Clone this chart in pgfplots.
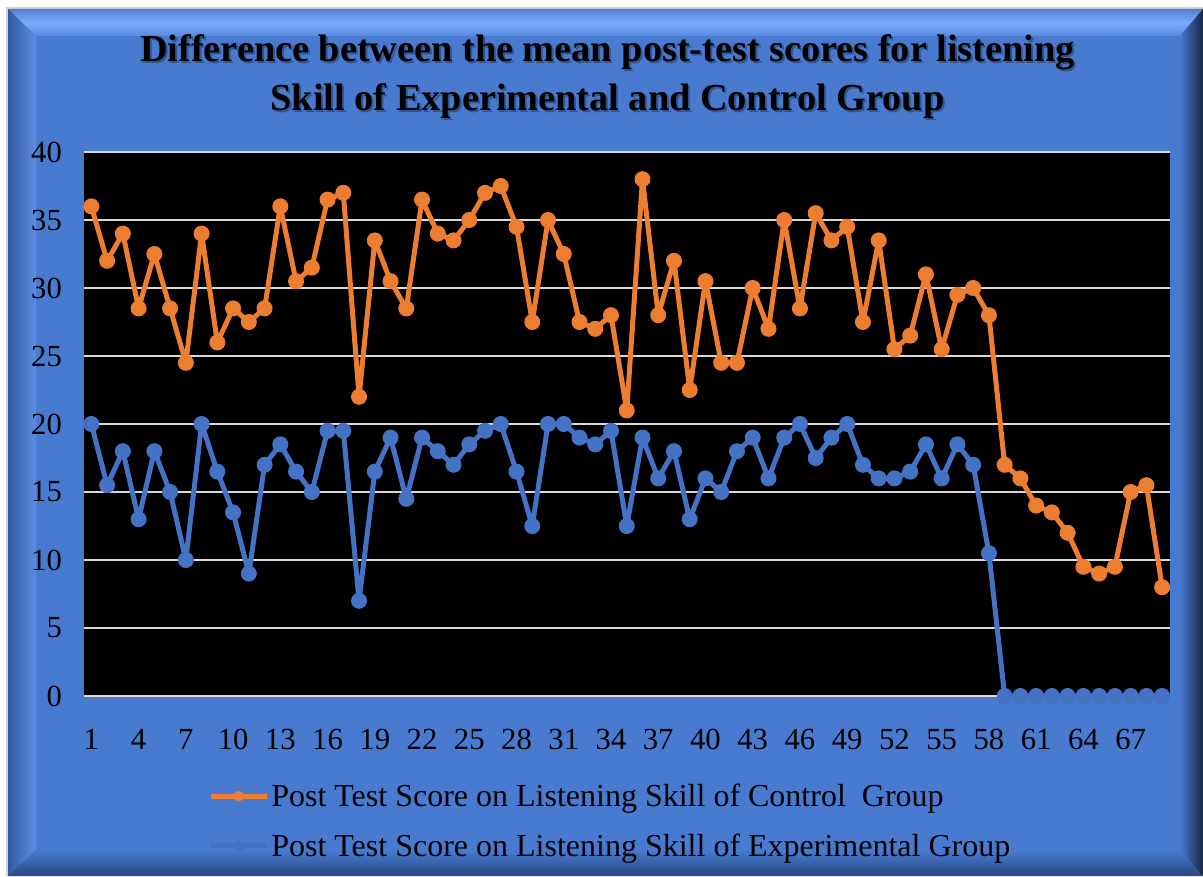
\documentclass[border=0pt]{standalone}
\usepackage{pgfplots}
\pgfplotsset{compat=1.18}
\usepackage{pgfplotstable}
\usepackage{fontspec}
\setmainfont{Liberation Serif}
\definecolor{bluemain}{RGB}{72,123,208}
\definecolor{ctrlorange}{RGB}{237,125,49}
\definecolor{expblue}{RGB}{68,114,196}
\definecolor{gridgray}{RGB}{217,217,217}

\pgfplotstableread{
x ctrl exp
1 36 20
2 32 15.5
3 34 18
4 28.5 13
5 32.5 18
6 28.5 15
7 24.5 10
8 34 20
9 26 16.5
10 28.5 13.5
11 27.5 9
12 28.5 17
13 36 18.5
14 30.5 16.5
15 31.5 15
16 36.5 19.5
17 37 19.5
18 22 7
19 33.5 16.5
20 30.5 19
21 28.5 14.5
22 36.5 19
23 34 18
24 33.5 17
25 35 18.5
26 37 19.5
27 37.5 20
28 34.5 16.5
29 27.5 12.5
30 35 20
31 32.5 20
32 27.5 19
33 27 18.5
34 28 19.5
35 21 12.5
36 38 19
37 28 16
38 32 18
39 22.5 13
40 30.5 16
41 24.5 15
42 24.5 18
43 30 19
44 27 16
45 35 19
46 28.5 20
47 35.5 17.5
48 33.5 19
49 34.5 20
50 27.5 17
51 33.5 16
52 25.5 16
53 26.5 16.5
54 31 18.5
55 25.5 16
56 29.5 18.5
57 30 17
58 28 10.5
59 17 0
60 16 0
61 14 0
62 13.5 0
63 12 0
64 9.5 0
65 9 0
66 9.5 0
67 15 0
68 15.5 0
69 8 0
}\datatable

\begin{document}
\begin{tikzpicture}
\begin{scope}[x=0.75pt,y=0.75pt]
\fill[white] (0,0) rectangle (1203,876);
\fill[gray!35] (6,0) rectangle (1203,869);
\fill[bluemain] (8,0) rectangle (1203,867);
\shade[top color={rgb,255:red,76;green,128;blue,214}, bottom color={rgb,255:red,86;green,138;blue,224}, middle color={rgb,255:red,124;green,172;blue,250}]
  (8,867) -- (1203,867) -- (1180,840) -- (36,840) -- cycle;
\shade[left color={rgb,255:red,50;green,88;blue,164}, right color={rgb,255:red,92;green,142;blue,228}]
  (8,867) -- (36,840) -- (36,26) -- (8,0) -- cycle;
\shade[top color=bluemain, bottom color={rgb,255:red,40;green,70;blue,130}]
  (36,26) -- (1180,26) -- (1203,0) -- (8,0) -- cycle;
\shade[left color=bluemain, right color={rgb,255:red,22;green,36;blue,70}]
  (1180,840) -- (1203,867) -- (1203,0) -- (1180,26) -- cycle;
% title
\node[anchor=base, font=\bfseries\fontsize{28.7}{34}\selectfont, text=black, opacity=0.3] at (609.5,812) {Difference between the mean post-test scores for listening};
\node[anchor=base, font=\bfseries\fontsize{28.7}{34}\selectfont, text=black, opacity=0.3] at (609.5,763) {Skill of Experimental and Control Group};
\node[anchor=base, font=\bfseries\fontsize{28.7}{34}\selectfont, text=black] at (607.5,814) {Difference between the mean post-test scores for listening};
\node[anchor=base, font=\bfseries\fontsize{28.7}{34}\selectfont, text=black] at (607.5,765) {Skill of Experimental and Control Group};
\end{scope}

\begin{axis}[
  at={(62.625pt,135pt)}, anchor=south west,
  width=814.875pt, height=408pt, scale only axis,
  xmin=0.5, xmax=69.5, ymin=0, ymax=40,
  xtick={1,4,...,67}, ytick={0,5,...,40},
  ymajorgrids, grid style={line width=1.2pt, color=gridgray},
  axis background/.style={fill=black},
  axis line style={draw=none},
  major tick length=0pt,
  tick label style={font=\fontsize{23}{27}\selectfont, inner sep=0pt, text=black},
  yticklabel style={xshift=-16pt},
  xticklabel style={yshift=-25pt},
  /pgf/number format/assume math mode=true,
  clip=false,
  legend cell align=left,
  legend style={at={(0.1109,-0.1526)}, anchor=north west, draw=none, fill=none,
    font=\fontsize{24}{28}\selectfont, row sep=15.75pt,
    nodes={inner sep=1.5pt}},
  legend image code/.code={\draw[mark repeat=2, mark phase=2, mark size=3.5pt, #1] plot coordinates {(0pt,0pt) (21pt,0pt) (42pt,0pt)};},
]
\addplot[color=ctrlorange, line width=3.75pt, line join=round, mark=*, mark size=5.6pt, mark options={solid, line width=0.8pt, fill=ctrlorange, draw=ctrlorange}] table[x=x, y=ctrl] {\datatable};
\addlegendentry{Post Test Score on Listening Skill of Control\ \ Group}
\addplot[color=expblue, line width=3.75pt, line join=round, mark=*, mark size=5.6pt, mark options={solid, line width=0.8pt, fill=expblue, draw=expblue}] table[x=x, y=exp] {\datatable};
\addlegendentry{Post Test Score on Listening Skill of Experimental Group}
\end{axis}
\pgfresetboundingbox
\path (0,0) rectangle (902.25pt,657pt);
\end{tikzpicture}
\end{document}
